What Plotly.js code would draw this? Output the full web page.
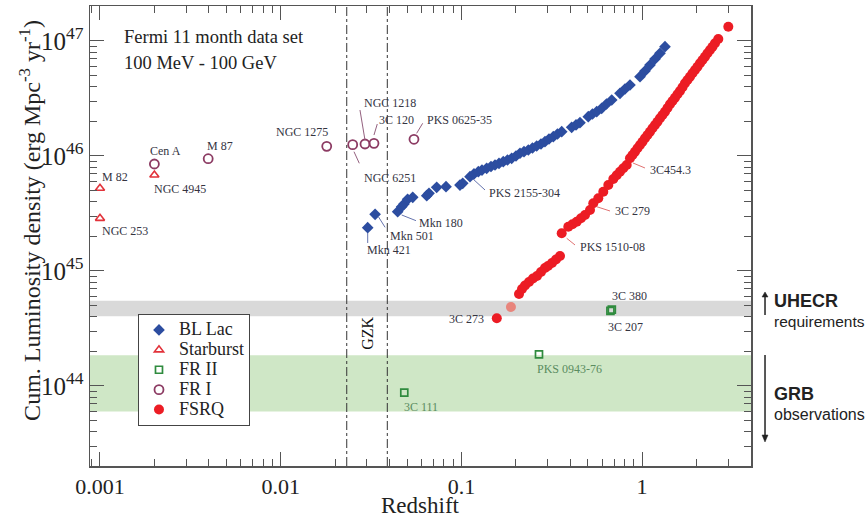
<!DOCTYPE html>
<html><head><meta charset="utf-8">
<script src="https://cdn.plot.ly/plotly-3.0.1.min.js"></script>
<style>html,body{margin:0;padding:0;background:#fff}#chart{width:868px;height:518px}</style>
</head><body><div id="chart"></div>
<script>
// ---------------- DATA ----------------
// BL Lac (blue diamonds)
const blLacZ = [0.0303,0.0333,0.0444,0.0467,0.0481,0.0504,0.0538,0.0643,0.0662,0.0730,0.0822,0.0982,0.1017,
  0.1116,0.1174,0.1241,0.1300,0.1380,0.1458,0.1535,0.1615,0.1705,0.1799,0.1898,0.2005,0.2110,0.2220,0.2346,
  0.2474,0.2610,0.2757,0.2901,0.3053,0.3226,0.3402,0.3590,0.4077,0.4308,0.4531,0.5038,0.5314,0.5608,0.5976,
  0.6353,0.6791,0.7546,0.8041,0.8570,0.9736,1.0376,1.1058,1.1786,1.2561,1.3388];
const blLacL = [2.38e45,3.11e45,3.28e45,3.62e45,3.82e45,4.20e45,4.37e45,4.52e45,4.74e45,5.34e45,5.41e45,5.59e45,5.79e45,
  6.61e45,6.98e45,7.30e45,7.55e45,7.82e45,8.10e45,8.35e45,8.61e45,8.92e45,9.23e45,9.55e45,1.00e46,1.056e46,1.090e46,1.128e46,
  1.174e46,1.222e46,1.271e46,1.331e46,1.405e46,1.472e46,1.554e46,1.627e46,1.777e46,1.861e46,1.948e46,2.196e46,2.318e46,2.428e46,2.598e46,
  2.833e46,3.069e46,3.509e46,3.823e46,4.145e46,4.894e46,5.484e46,6.18e46,6.975e46,7.82e46,8.92e46];
const blLacNamedIdx = {'Mkn 421':0, 'Mkn 501':1, 'Mkn 180':2, 'PKS 2155-304':13};

// Starburst (red open triangles)
const starburstNames = ['M 82','NGC 253','NGC 4945'];
const starburstZ = [0.001, 0.001, 0.002];
const starburstL = [5.24e45, 2.87e45, 6.84e45];

// FR II (green open squares)
const fr2Names = ['3C 111','PKS 0943-76','3C 207','3C 380'];
const fr2Z = [0.0483, 0.2688, 0.668, 0.680];
const fr2L = [8.74e43, 1.887e44, 4.50e44, 4.62e44];

// FR I (purple open circles)
const fr1Names = ['Cen A','M 87','NGC 1275','NGC 6251','NGC 1218','3C 120','PKS 0625-35'];
const fr1Z = [0.0020, 0.00397, 0.01798, 0.02503, 0.02927, 0.03283, 0.05465];
const fr1L = [8.52e45, 9.47e45, 1.214e46, 1.254e46, 1.271e46, 1.289e46, 1.397e46];

// FSRQ (red filled circles)
const fsrqZ = [0.157,0.188,0.2084,0.2165,0.2249,0.2366,0.2489,0.2620,0.2757,0.2901,0.3014,0.3172,0.3338,0.3513,
  0.3590,0.3905,0.4119,0.4346,0.4590,0.4831,0.5148,0.5370,0.5723,0.6100,0.6501,0.6930,0.7237,0.7546,0.7870,0.8217,
  0.8570,0.9135,0.9736,1.0376,1.1058,1.1786,1.2561,1.3388,1.4268,1.5208,1.6206,1.7273,1.8410,1.9622,2.0913,
  2.2289,2.3755,2.5317,2.6406,3.0000,
  0.8849,0.9432,1.0051,1.0713,1.1418,1.2167,1.2970,1.3823,1.4731,1.5702,1.6734,1.7831,1.9008,2.0258,2.1593,2.3010,2.4530];
const fsrqL = [3.88e44,4.87e44,6.31e44,6.975e44,7.48e44,8.02e44,8.61e44,9.05e44,9.80e44,1.062e45,1.105e45,1.174e45,1.259e45,1.350e45,
  2.128e45,2.428e45,2.553e45,2.684e45,2.872e45,3.069e45,3.392e45,3.879e45,4.288e45,4.894e45,5.594e45,6.310e45,6.797e45,7.305e45,7.816e45,8.352e45,
  9.55e45,1.090e46,1.246e46,1.425e46,1.627e46,1.861e46,2.128e46,2.428e46,2.816e46,3.214e46,3.675e46,4.288e46,4.894e46,5.594e46,6.399e46,
  7.305e46,8.352e46,9.55e46,1.041e47,1.331e47,
  1.020e46,1.167e46,1.331e46,1.523e46,1.741e46,1.988e46,2.273e46,2.614e46,3.008e46,3.439e46,3.966e46,4.582e46,5.238e46,5.978e46,6.836e46,7.816e46,8.921e46];
const fsrqNamedIdx = {'3C 273':0, 'PKS 1510-08':14, '3C 279':21, '3C 454.3':30};
const fsrqFadedIdx = 1;

// Reference lines and bands
const gzkRedshifts = [0.0232, 0.0389];
const uhecrBand = [4.04e44, 5.5e44];
const grbBand = [6.0e43, 1.85e44];

// Axis ticks
const xTickVals = [0.001, 0.01, 0.1, 1];
const xTickText = ['0.001', '0.01', '0.1', '1'];
const yTickVals = [1e44, 1e45, 1e46, 1e47];
const yTickText = ['10<sup>44</sup>', '10<sup>45</sup>', '10<sup>46</sup>', '10<sup>47</sup>'];

// ---------------- STYLE / LAYOUT ----------------
const SERIF = '"Liberation Serif", "Times New Roman", serif';
const SANS = '"Liberation Sans", Arial, sans-serif';
const C = {bl:'#2C4DA0', sb:'#E2323A', fr2:'#2F8B3E', fr1:'#8C3B63', fsrq:'#EC1C24', fsrqFaded:'#E8857C'};
const LEG = s => '<span style="font-size:18px">' + s + '</span>';

const traces = [
  {type:'scatter', mode:'markers', name:LEG('BL Lac'), x:blLacZ, y:blLacL,
   marker:{symbol:'diamond', size:9, color:C.bl}},
  {type:'scatter', mode:'markers', name:LEG('Starburst'), x:starburstZ, y:starburstL,
   marker:{symbol:'triangle-up-open', size:8, color:C.sb, line:{width:1.6, color:C.sb}}},
  {type:'scatter', mode:'markers', name:LEG('FR II'), x:fr2Z, y:fr2L,
   marker:{symbol:'square-open', size:7, color:C.fr2, line:{width:1.7, color:C.fr2}}},
  {type:'scatter', mode:'markers', name:LEG('FR I'), x:fr1Z, y:fr1L,
   marker:{symbol:'circle-open', size:9, color:C.fr1, line:{width:1.8, color:C.fr1}}},
  {type:'scatter', mode:'markers', name:LEG('FSRQ'), x:fsrqZ, y:fsrqL,
   marker:{symbol:'circle', size:10, color:fsrqZ.map((_, i) => i === fsrqFadedIdx ? C.fsrqFaded : C.fsrq)}}
];

const lookup = {
  bl: n => [blLacZ[blLacNamedIdx[n]], blLacL[blLacNamedIdx[n]]],
  sb: n => [starburstZ[starburstNames.indexOf(n)], starburstL[starburstNames.indexOf(n)]],
  fr2: n => [fr2Z[fr2Names.indexOf(n)], fr2L[fr2Names.indexOf(n)]],
  fr1: n => [fr1Z[fr1Names.indexOf(n)], fr1L[fr1Names.indexOf(n)]],
  fsrq: n => [fsrqZ[fsrqNamedIdx[n]], fsrqL[fsrqNamedIdx[n]]]
};
const LBL = '#34343f', GRN = '#5A8C60';
const lineCol = {bl:'#6674AE', sb:'#D06060', fr2:'#5A8C60', fr1:'#93607E', fsrq:'#E07272'};
// [series, name, text, xanchor, dx, dy, leader-line offsets in px (x0,y0,x1,y1; y up), text colour]
const labels = [
  ['sb','M 82','M 82','left',0,11.6,null,LBL],
  ['sb','NGC 253','NGC 253','left',0,-12.7,null,LBL],
  ['sb','NGC 4945','NGC 4945','left',-2,-14.3,null,LBL],
  ['fr1','Cen A','Cen A','center',11,13,null,LBL],
  ['fr1','M 87','M 87','left',-3,13,null,LBL],
  ['fr1','NGC 1275','NGC 1275','right',3,14.6,null,LBL],
  ['fr1','NGC 6251','NGC 6251','left',9,-33,[1.3,-7,6.6,-18.6],LBL],
  ['fr1','NGC 1218','NGC 1218','left',-3,41,[0,4,-5,34],LBL],
  ['fr1','3C 120','3C 120','left',3,23,[0,8.3,3.3,19.3],LBL],
  ['fr1','PKS 0625-35','PKS 0625-35','left',11,19,[2.7,6,8.7,16],LBL],
  ['bl','Mkn 421','Mkn 421','left',-3,-22.3,[0,-5.3,0,-15.3],LBL],
  ['bl','Mkn 501','Mkn 501','left',13,-21.7,[3.3,-2.4,10,-13],LBL],
  ['bl','Mkn 180','Mkn 180','left',19.3,-11,[4,-3.3,18.3,-9],LBL],
  ['bl','PKS 2155-304','PKS 2155-304','left',16.7,-16,[3,-2.3,15,-13.3],LBL],
  ['fsrq','3C 273','3C 273','right',-11,-1,null,LBL],
  ['fsrq','PKS 1510-08','PKS 1510-08','left',16.3,-13.4,[5,-5,13.3,-11.7],LBL],
  ['fsrq','3C 279','3C 279','left',19.7,-7.4,[3.4,-3.4,16.7,-7.7],LBL],
  ['fsrq','3C 454.3','3C454.3','left',17.7,-11.7,[3,-4.7,15,-9.7],LBL],
  ['fr2','3C 111','3C 111','left',-2.6,-14,null,GRN],
  ['fr2','PKS 0943-76','PKS 0943-76','left',-4,-15,null,GRN],
  ['fr2','3C 207','3C 207','left',-4,-16,null,LBL],
  ['fr2','3C 380','3C 380','left',-2,13.3,null,LBL]
];

const annotations = [];
const shapes = [
  {type:'rect', xref:'paper', yref:'y', x0:0, x1:1, y0:uhecrBand[0], y1:uhecrBand[1], fillcolor:'#D9D9D9', line:{width:0}, layer:'below'},
  {type:'rect', xref:'paper', yref:'y', x0:0, x1:1, y0:grbBand[0], y1:grbBand[1], fillcolor:'#CFE7C6', line:{width:0}, layer:'below'}
];
gzkRedshifts.forEach(z => shapes.push({type:'line', xref:'x', yref:'paper', x0:z, x1:z, y0:0, y1:1,
  line:{color:'#333', width:1, dash:'dashdot'}, layer:'above'}));

labels.forEach(([s, n, t, xa, dx, dy, ln, col]) => {
  const [z, L] = lookup[s](n);
  annotations.push({xref:'x', yref:'y', x:Math.log10(z), y:Math.log10(L), text:t, showarrow:false,
    xanchor:xa, yanchor:'middle', xshift:dx, yshift:dy, font:{family:SERIF, size:12, color:col}});
  if (ln) shapes.push({type:'path', xref:'x', yref:'y', xsizemode:'pixel', ysizemode:'pixel',
    xanchor:z, yanchor:L, path:'M' + ln[0] + ',' + ln[1] + 'L' + ln[2] + ',' + ln[3],
    line:{color:lineCol[s], width:1}, layer:'above'});
});

// free texts
annotations.push(
  {xref:'paper', yref:'paper', x:0.0484, y:0.9326, xanchor:'left', yanchor:'middle', showarrow:false,
   text:'Fermi 11 month data set', font:{family:SERIF, size:18.5, color:'#222'}},
  {xref:'paper', yref:'paper', x:0.0484, y:0.8761, xanchor:'left', yanchor:'middle', showarrow:false,
   text:'100 MeV - 100 GeV', font:{family:SERIF, size:18.5, color:'#222'}},
  {xref:'paper', yref:'paper', x:0.4186, y:0.289, xanchor:'center', yanchor:'middle', showarrow:false,
   text:'GZK', textangle:-90, font:{family:SERIF, size:16, color:'#111'}},
  {xref:'paper', yref:'paper', x:0.5, y:-0.0848, xanchor:'center', yanchor:'middle', showarrow:false,
   text:'Redshift', font:{family:SERIF, size:23, color:'#222'}},
  {xref:'paper', yref:'paper', x:-0.0908, y:0.535, xanchor:'center', yanchor:'middle', showarrow:false,
   textangle:-90, text:'Cum. Luminosity density (erg Mpc<sup>-3</sup> yr<sup>-1</sup>)', font:{family:SERIF, size:24, color:'#222'}},
  {xref:'paper', yref:'paper', x:1.0318, y:0.3593, xanchor:'left', yanchor:'middle', showarrow:false,
   text:'<b>UHECR</b>', font:{family:SANS, size:18, color:'#222'}},
  {xref:'paper', yref:'paper', x:1.0318, y:0.3137, xanchor:'left', yanchor:'middle', showarrow:false,
   text:'requirements', font:{family:SANS, size:15.5, color:'#222'}},
  {xref:'paper', yref:'paper', x:1.0318, y:0.1565, xanchor:'left', yanchor:'middle', showarrow:false,
   text:'<b>GRB</b>', font:{family:SANS, size:18, color:'#222'}},
  {xref:'paper', yref:'paper', x:1.0318, y:0.113, xanchor:'left', yanchor:'middle', showarrow:false,
   text:'observations', font:{family:SANS, size:16, color:'#222'}}
);

// UHECR (up) and GRB (down) arrows
shapes.push(
  {type:'line', xref:'paper', yref:'paper', x0:1.0212, x1:1.0212, y0:(466-315)/460, y1:(466-297)/460, line:{color:'#222', width:1.5}},
  {type:'path', xref:'paper', yref:'paper', path:'M1.0167,0.3674 L1.0257,0.3674 L1.0212,0.3783 Z', fillcolor:'#222', line:{color:'#222', width:0.5}},
  {type:'line', xref:'paper', yref:'paper', x0:1.0212, x1:1.0212, y0:(466-355)/460, y1:(466-437)/460, line:{color:'#222', width:1.5}},
  {type:'path', xref:'paper', yref:'paper', path:'M1.0167,0.0674 L1.0257,0.0674 L1.0212,0.0522 Z', fillcolor:'#222', line:{color:'#222', width:0.5}}
);

const axisCommon = {
  type:'log', showgrid:false, zeroline:false, showline:true, linecolor:'#555', linewidth:1.5,
  mirror:'ticks', ticks:'inside', ticklen:14, tickwidth:1, tickcolor:'#555',
  minor:{ticks:'inside', ticklen:7, tickwidth:1, tickcolor:'#555', dtick:'D1', showgrid:false}
};
const layout = {
  width:868, height:518,
  margin:{l:90, r:117, t:6, b:52, pad:0},
  paper_bgcolor:'#fff', plot_bgcolor:'#fff',
  font:{family:SERIF, color:'#222'},
  showlegend:true,
  legend:{x:0.0726, y:0.3304, xanchor:'left', yanchor:'top', bgcolor:'#fff', bordercolor:'#444', borderwidth:1,
    font:{family:SERIF, size:13, color:'#222'}, itemclick:false},
  xaxis:Object.assign({}, axisCommon, {range:[-3.0553, 0.6027], tickmode:'array', tickvals:xTickVals, ticktext:xTickText,
    tickfont:{family:SERIF, size:22, color:'#222'}}),
  yaxis:Object.assign({}, axisCommon, {range:[43.3043, 47.3043], tickmode:'array', tickvals:yTickVals, ticktext:yTickText,
    tickfont:{family:SERIF, size:25, color:'#222'}}),
  shapes:shapes,
  annotations:annotations
};

Plotly.newPlot('chart', traces, layout, {displayModeBar:false, staticPlot:true});
</script></body></html>
